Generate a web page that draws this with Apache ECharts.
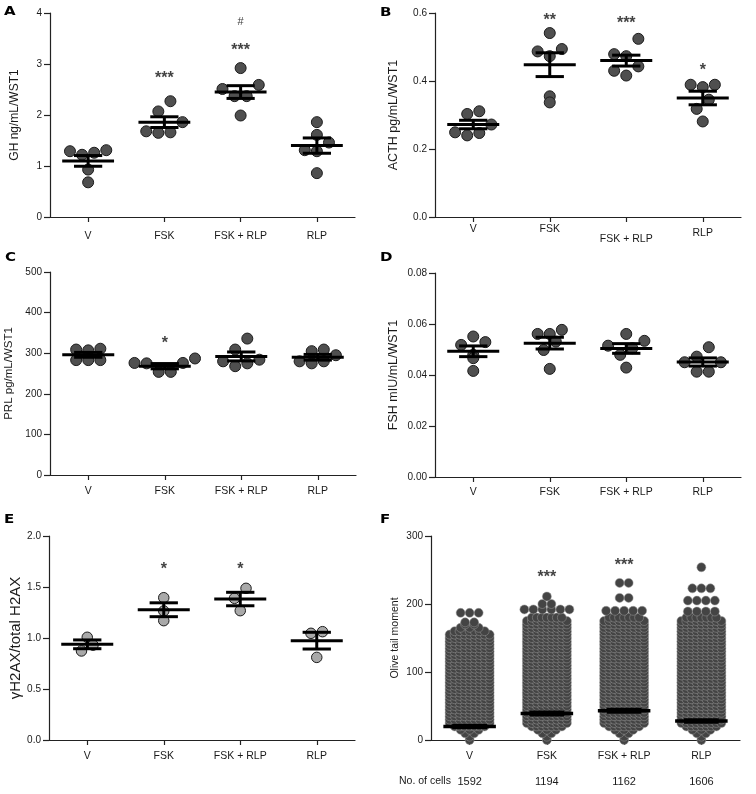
<!DOCTYPE html>
<html><head><meta charset="utf-8">
<script src="https://cdn.jsdelivr.net/npm/echarts@6/dist/echarts.min.js"></script>
<style>html,body{margin:0;padding:0;background:#fff}#c{width:756px;height:794px}</style>
</head><body><div id="c"></div>
<script>
// ---------- DATA ----------
const categories = ['V', 'FSK', 'FSK + RLP', 'RLP'];

// A: GH ng/mL/WST1
const ghV = [1.29, 1.22, 1.26, 1.31, 0.93, 0.68];
const ghFSK = [2.27, 2.07, 1.68, 1.65, 1.66, 1.86];
const ghFR = [2.92, 2.59, 2.51, 2.37, 2.37, 1.99];
const ghRLP = [1.86, 1.61, 1.46, 1.31, 1.29, 0.86];
const ghMean = [1.10, 1.86, 2.45, 1.40];
const ghSem = [0.105, 0.105, 0.125, 0.15];
const ghTicks = [0, 1, 2, 3, 4];
const ghNotes = [[1, 2.79, '***'], [2, 3.35, '***'], [2, 3.82, '#']];

// B: ACTH pg/mL/WST1
const acthV = [0.311, 0.303, 0.272, 0.249, 0.240, 0.247];
const acthFSK = [0.541, 0.487, 0.494, 0.473, 0.355, 0.337];
const acthFR = [0.524, 0.479, 0.473, 0.443, 0.430, 0.416];
const acthRLP = [0.389, 0.382, 0.389, 0.345, 0.318, 0.281];
const acthMean = [0.272, 0.448, 0.460, 0.350];
const acthSem = [0.0125, 0.035, 0.016, 0.020];
const acthTicks = ['0.0', '0.2', '0.4', '0.6'];
const acthNotes = [[1, 0.59, '**'], [2, 0.58, '***'], [3, 0.443, '*']];

// C: PRL pg/mL/WST1
const prlV = [309, 307, 311, 283, 283, 283];
const prlFSK = [276, 275, 287, 276, 254, 254];
const prlFR = [336, 309, 280, 284, 268, 275];
const prlRLP = [305, 309, 295, 280, 275, 280];
const prlMean = [296, 268, 292, 290];
const prlSem = [6, 6.5, 11, 7];
const prlTicks = [0, 100, 200, 300, 400, 500];
const prlNotes = [[1, 334, '*']];

// D: FSH mIU/mL/WST1
const fshV = [0.0551, 0.0529, 0.0518, 0.0479, 0.0466, 0.0416];
const fshFSK = [0.0577, 0.0561, 0.0561, 0.0531, 0.0498, 0.0424];
const fshFR = [0.0561, 0.0534, 0.0515, 0.0505, 0.0479, 0.0429];
const fshRLP = [0.0509, 0.0472, 0.0450, 0.0450, 0.0413, 0.0413];
const fshMean = [0.0493, 0.0525, 0.0504, 0.0451];
const fshSem = [0.0021, 0.0023, 0.0019, 0.0016];
const fshTicks = ['0.00', '0.02', '0.04', '0.06', '0.08'];
const fshNotes = [];

// E: γH2AX/total H2AX
const h2axV = [1.007, 0.93, 0.873];
const h2axFSK = [1.395, 1.265, 1.17];
const h2axFR = [1.487, 1.389, 1.268];
const h2axRLP = [1.062, 1.046, 0.81];
const h2axMean = [0.938, 1.277, 1.382, 0.974];
const h2axSem = [0.043, 0.068, 0.066, 0.082];
const h2axTicks = ['0.0', '0.5', '1.0', '1.5', '2.0'];
const h2axNotes = [[1, 1.71, '*'], [2, 1.71, '*']];

// F: Olive tail moment (comet assay) – swarm read as rows: level value and number of points across
const tailLevels = [0, 5, 10, 15, 20, 25, 30, 35, 40, 45, 50, 55, 60, 65, 70, 75, 80, 85, 90, 95,
  100, 105, 110, 115, 120, 125, 130, 135, 140, 145, 150, 155, 160, 165, 170, 175, 180];
const tailCountV =   [1, 1, 2, 3, 7, 9, 9, 9, 9, 9, 9, 9, 9, 9, 9, 9, 9, 9, 9, 9, 9, 9, 9, 9, 9, 9, 9, 9, 9, 9, 9, 9, 7, 3, 2, 0, 0];
const tailCountFSK = [1, 1, 2, 3, 7, 9, 9, 9, 9, 9, 9, 9, 9, 9, 9, 9, 9, 9, 9, 9, 9, 9, 9, 9, 9, 9, 9, 9, 9, 9, 9, 9, 9, 9, 9, 9, 7];
const tailCountFR =  [1, 1, 2, 3, 7, 9, 9, 9, 9, 9, 9, 9, 9, 9, 9, 9, 9, 9, 9, 9, 9, 9, 9, 9, 9, 9, 9, 9, 9, 9, 9, 9, 9, 9, 9, 9, 7];
const tailCountRLP = [1, 1, 2, 3, 7, 9, 9, 9, 9, 9, 9, 9, 9, 9, 9, 9, 9, 9, 9, 9, 9, 9, 9, 9, 9, 9, 9, 9, 9, 9, 9, 9, 9, 9, 9, 9, 7];
const tailTopV =   [[187, 3], [173, 2]];
const tailTopFSK = [[192, 6], [200, 2], [211, 1]];
const tailTopFR =  [[190, 5], [209, 2], [231, 2]];
const tailTopRLP = [[189, 4], [205, 4], [223, 3], [254, 1]];
const tailMean = [20, 39, 43, 28];
const tailSem = [1.2, 1.8, 1.8, 1.5];
const tailTicks = [0, 100, 200, 300];
const tailNotes = [[1, 245, '***'], [2, 262, '***']];
const cellCounts = ['1592', '1194', '1162', '1606'];

// ---------- LAYOUT ----------
const FONT = '"Liberation Sans", Arial, Helvetica, sans-serif';
const panels = [
  { letter: 'A', lx: 11, ly: 11, grid: { left: 50, top: 13, width: 305, height: 204 },
    groups: [ghV, ghFSK, ghFR, ghRLP], mean: ghMean, sem: ghSem, ticks: ghTicks, notes: ghNotes,
    name: 'GH ng/mL/WST1', nameSize: 12, nameGap: 29, labelMargin: 14, size: 11, fill: '#4f4f4f' },
  { letter: 'B', lx: 387, ly: 12, grid: { left: 435, top: 13, width: 306, height: 204 },
    groups: [acthV, acthFSK, acthFR, acthRLP], mean: acthMean, sem: acthSem, ticks: acthTicks, notes: acthNotes,
    name: 'ACTH pg/mL/WST1', nameSize: 12.5, nameGap: 35, labelMargin: 7, size: 11, fill: '#4f4f4f' },
  { letter: 'C', lx: 12, ly: 257, grid: { left: 50, top: 272, width: 306, height: 203 },
    groups: [prlV, prlFSK, prlFR, prlRLP], mean: prlMean, sem: prlSem, ticks: prlTicks, notes: prlNotes,
    name: 'PRL pg/mL/WST1', nameSize: 11.5, nameGap: 35, labelMargin: 11, size: 11, fill: '#4f4f4f' },
  { letter: 'D', lx: 387, ly: 257, grid: { left: 435, top: 273, width: 306, height: 204 },
    groups: [fshV, fshFSK, fshFR, fshRLP], mean: fshMean, sem: fshSem, ticks: fshTicks, notes: fshNotes,
    name: 'FSH mIU/mL/WST1', nameSize: 12.5, nameGap: 35, labelMargin: 10, size: 11, fill: '#4f4f4f' },
  { letter: 'E', lx: 11, ly: 519, grid: { left: 49, top: 536, width: 306, height: 204 },
    groups: [h2axV, h2axFSK, h2axFR, h2axRLP], mean: h2axMean, sem: h2axSem, ticks: h2axTicks, notes: h2axNotes,
    name: 'γH2AX/total H2AX', nameSize: 15, nameGap: 26, labelMargin: 11, size: 10.5, fill: '#a9a9a9' },
  { letter: 'F', lx: 387, ly: 519, grid: { left: 431, top: 536, width: 309, height: 204 },
    swarm: true, mean: tailMean, sem: tailSem, ticks: tailTicks, notes: tailNotes,
    name: 'Olive tail moment', nameSize: 10.5, nameGap: 30, labelMargin: 11, size: 9, fill: '#444444' }
];

// ---------- BUILD ----------
function swarmOffsets(values, pxPerUnit, diam, spacing, binPx) {
  const px = values.map(v => v * pxPerUnit);
  const bins = {};
  values.forEach((v, i) => { const b = Math.floor(px[i] / binPx); (bins[b] = bins[b] || []).push(i); });
  const off = new Array(values.length).fill(0);
  Object.keys(bins).forEach(b => {
    const idx = bins[b].slice().sort((a, c) => values[a] - values[c]);
    const n = idx.length;
    if (n < 2) return;
    let overlap = false;
    for (let k = 1; k < n; k++) if (px[idx[k]] - px[idx[k - 1]] < diam) overlap = true;
    if (!overlap) return;
    const slots = [];
    for (let k = 0; k < n; k++) slots.push((k - (n - 1) / 2) * spacing);
    slots.sort((a, c) => Math.abs(a) - Math.abs(c) || a - c);
    idx.forEach((i, k) => { off[i] = slots[k]; });
  });
  return off;
}

function rowPoints(ci, value, n, pxPerCat) {
  const s = n >= 7 ? 5 : 9;
  const pts = [];
  for (let k = 0; k < n; k++) pts.push([ci + ((k - (n - 1) / 2) * s) / pxPerCat, value]);
  return pts;
}

function meanSemRender(meanFrac, capFrac, lw) {
  return function (params, api) {
    const i = api.value(0);
    const m = api.coord([i, api.value(1)]);
    const lo = api.coord([i, api.value(2)]);
    const hi = api.coord([i, api.value(3)]);
    const bw = api.size([1, 0])[0];
    const st = { stroke: '#000', lineWidth: lw };
    const hm = bw * meanFrac / 2, hc = bw * capFrac / 2;
    return { type: 'group', children: [
      { type: 'line', shape: { x1: m[0] - hm, y1: m[1], x2: m[0] + hm, y2: m[1] }, style: st },
      { type: 'line', shape: { x1: m[0] - hc, y1: hi[1], x2: m[0] + hc, y2: hi[1] }, style: st },
      { type: 'line', shape: { x1: m[0] - hc, y1: lo[1], x2: m[0] + hc, y2: lo[1] }, style: st },
      { type: 'line', shape: { x1: m[0], y1: hi[1], x2: m[0], y2: lo[1] }, style: st }
    ] };
  };
}

const grids = [], xAxes = [], yAxes = [], series = [], graphics = [];
const axisColor = '#222';

panels.forEach((p, g) => {
  grids.push(Object.assign({ containLabel: false }, p.grid));
  const ymax = Number(p.ticks[p.ticks.length - 1]);
  const interval = Number(p.ticks[1]) - Number(p.ticks[0]);
  const catIdx = xAxes.length;
  xAxes.push({
    type: 'category', gridIndex: g, boundaryGap: true,
    data: categories.map(c => (p.letter === 'B' && c === 'FSK + RLP') ? { value: c, textStyle: { padding: [10, 0, 0, 0] } }
      : (p.letter === 'B' && c === 'RLP') ? { value: c, textStyle: { padding: [4, 0, 0, 0] } } : c),
    axisLine: { show: true, onZero: false, lineStyle: { color: axisColor, width: 1.2 } },
    axisTick: { show: true, alignWithLabel: true, length: 5, lineStyle: { color: axisColor, width: 1.2 } },
    axisLabel: { interval: 0, fontSize: 10.5, color: '#1a1a1a', margin: p.labelMargin, fontFamily: FONT },
    splitLine: { show: false }
  });
  const valIdx = xAxes.length;
  xAxes.push({ type: 'value', gridIndex: g, min: -0.5, max: 3.5, show: false, axisLine: { onZero: false } });
  if (p.swarm) {
    xAxes.push({
      type: 'category', gridIndex: g, position: 'bottom', offset: 25, data: cellCounts, boundaryGap: true,
      axisLine: { show: false, onZero: false }, axisTick: { show: false },
      axisLabel: { interval: 0, fontSize: 11, color: '#1a1a1a', margin: p.labelMargin, fontFamily: FONT }
    });
  }
  yAxes.push({
    type: 'value', gridIndex: g, min: 0, max: ymax, interval: interval,
    axisLine: { show: true, onZero: false, lineStyle: { color: axisColor, width: 1.2 } },
    axisTick: { show: true, length: 6, lineStyle: { color: axisColor, width: 1.2 } },
    axisLabel: { fontSize: 10, color: '#1a1a1a', margin: 8, fontFamily: FONT,
      formatter: v => { const i = Math.round(v / interval); return String(p.ticks[i]); } },
    splitLine: { show: false },
    name: p.name, nameLocation: 'middle', nameGap: p.nameGap,
    nameTextStyle: { fontSize: p.nameSize, color: '#1a1a1a', fontFamily: FONT }
  });

  const pxPerUnit = p.grid.height / ymax;
  const pxPerCat = p.grid.width / 4;
  let pts = [];
  if (!p.swarm) {
    p.groups.forEach((vals, ci) => {
      const off = swarmOffsets(vals, pxPerUnit, p.size, p.size * 1.1, 20);
      vals.forEach((v, k) => pts.push([ci + off[k] / pxPerCat, v]));
    });
  } else {
    const counts = [tailCountV, tailCountFSK, tailCountFR, tailCountRLP];
    const tops = [tailTopV, tailTopFSK, tailTopFR, tailTopRLP];
    counts.forEach((cnt, ci) => {
      cnt.forEach((n, li) => { if (n > 0) pts = pts.concat(rowPoints(ci, tailLevels[li], n, pxPerCat)); });
      tops[ci].forEach(r => { pts = pts.concat(rowPoints(ci, r[0], r[1], pxPerCat)); });
    });
  }
  series.push({
    type: 'scatter', xAxisIndex: valIdx, yAxisIndex: g, data: pts, symbolSize: p.size,
    itemStyle: p.swarm
      ? { color: p.fill, borderColor: '#9a9a9a', borderWidth: 0.5, opacity: 1 }
      : { color: p.fill, borderColor: '#1c1c1c', borderWidth: 1, opacity: 1 },
    silent: true, animation: false, z: 2
  });
  series.push({
    type: 'custom', xAxisIndex: catIdx, yAxisIndex: g, silent: true, animation: false, z: 5,
    data: p.mean.map((m, i) => [i, m, m - p.sem[i], m + p.sem[i]]),
    renderItem: meanSemRender(0.68, p.swarm ? 0.45 : 0.37, p.swarm ? 3.5 : 3)
  });
  if (p.notes.length) {
    series.push({
      type: 'scatter', xAxisIndex: catIdx, yAxisIndex: g, silent: true, animation: false, z: 6,
      symbolSize: 1, itemStyle: { color: 'rgba(0,0,0,0)' },
      data: p.notes.map(n => ({
        value: [n[0], n[1]],
        label: n[2] === '#'
          ? { show: true, position: 'inside', formatter: n[2], fontSize: 11, color: '#000', fontFamily: FONT }
          : { show: true, position: 'inside', formatter: n[2], fontSize: 16, fontWeight: 'bold', color: '#111', fontFamily: FONT, offset: [0, 4] }
      }))
    });
  }
  graphics.push({
    type: 'text', left: p.lx - 7, top: p.ly - 6,
    style: { text: p.letter, fill: '#000', font: '900 12.5px "DejaVu Sans", Arial, sans-serif' },
    scaleX: 1.2
  });
});

graphics.push({
  type: 'text', left: 399, top: 776,
  style: { text: 'No. of cells', fill: '#1a1a1a', font: '10.5px "Liberation Sans", Arial, sans-serif' }
});

const chart = echarts.init(document.getElementById('c'), null, { renderer: 'canvas' });
chart.setOption({
  animation: false,
  backgroundColor: '#fff',
  textStyle: { fontFamily: FONT },
  grid: grids, xAxis: xAxes, yAxis: yAxes, series: series, graphic: graphics
});
</script>
</body></html>
